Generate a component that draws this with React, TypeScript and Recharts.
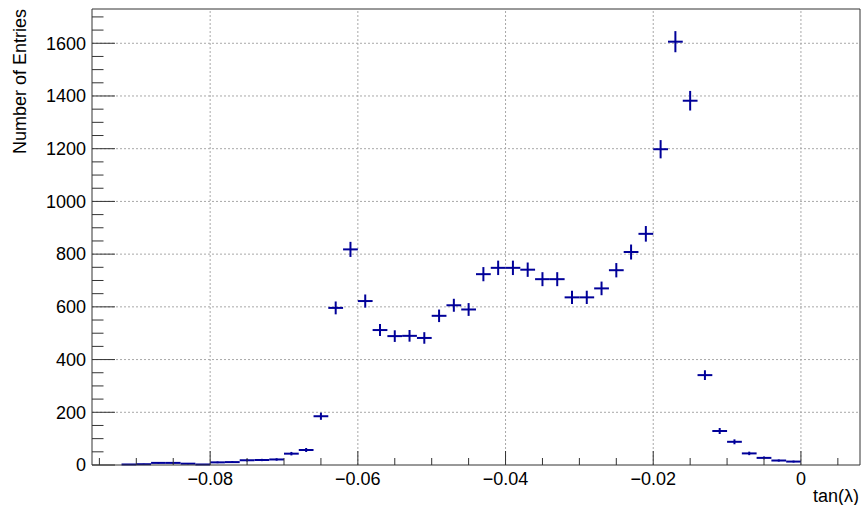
import React from 'react';
import { ScatterChart, Scatter, XAxis, YAxis, ErrorBar, ReferenceLine } from 'recharts';

// Histogram of tan(lambda): bin centres and entries per bin (bin width 0.002)
const binCenters = [
  -0.091, -0.089, -0.087, -0.085, -0.083, -0.081, -0.079, -0.077, -0.075, -0.073,
  -0.071, -0.069, -0.067, -0.065, -0.063, -0.061, -0.059, -0.057, -0.055, -0.053,
  -0.051, -0.049, -0.047, -0.045, -0.043, -0.041, -0.039, -0.037, -0.035, -0.033,
  -0.031, -0.029, -0.027, -0.025, -0.023, -0.021, -0.019, -0.017, -0.015, -0.013,
  -0.011, -0.009, -0.007, -0.005, -0.003, -0.001,
];
const entries = [
  2, 3, 8, 8, 5, 2, 10, 11, 18, 19,
  21, 43, 57, 185, 596, 818, 622, 512, 489, 490,
  482, 566, 606, 590, 724, 748, 748, 741, 705, 705,
  636, 636, 670, 739, 808, 877, 1198, 1606, 1382, 341,
  129, 88, 44, 27, 17, 13,
];
const binWidth = 0.002;

// Axis ticks and ranges
const xMajorTicks = [-0.08, -0.06, -0.04, -0.02, 0];
const xMinorTicks = [
  -0.095, -0.09, -0.085, -0.08, -0.075, -0.07, -0.065, -0.06, -0.055, -0.05, -0.045,
  -0.04, -0.035, -0.03, -0.025, -0.02, -0.015, -0.01, -0.005, 0, 0.005,
];
const yMajorTicks = [0, 200, 400, 600, 800, 1000, 1200, 1400, 1600];
const yMinorStep = 50;
const xDomain: [number, number] = [-0.096, 0.008];
const yDomain: [number, number] = [0, 1730];

const xTitle = 'tan(λ)';
const yTitle = 'Number of Entries';

const yAllTicks: number[] = [];
for (let v = yDomain[0]; v <= yDomain[1]; v += yMinorStep) yAllTicks.push(v);

const histogram = binCenters.map((x, i) => ({
  x,
  y: entries[i],
  ex: binWidth / 2,
  ey: Math.sqrt(entries[i]),
}));

const FONT = '"Liberation Sans", Arial, Helvetica, sans-serif';
const AXIS = '#333';
const MARK = '#000099';
const GRID = '#a8a8a8';

const near = (a: number, list: number[]) => list.some((b) => Math.abs(a - b) < 1e-9);
const fmtX = (v: number) => (Math.abs(v) < 1e-12 ? '0' : v < 0 ? '\u2212' + Math.abs(v).toFixed(2) : v.toFixed(2));

const XTick = (props: any) => {
  const { x, y, payload } = props;
  const major = near(payload.value, xMajorTicks);
  return (
    <g>
      <line x1={x} x2={x} y1={y} y2={y - (major ? 14 : 7)} stroke={AXIS} strokeWidth={1} />
      {major && (
        <text x={x} y={y + 20} textAnchor="middle" fontFamily={FONT} fontSize={18} fill="#000">
          {fmtX(payload.value)}
        </text>
      )}
    </g>
  );
};

const YTick = (props: any) => {
  const { x, y, payload } = props;
  const major = near(payload.value, yMajorTicks);
  return (
    <g>
      <line x1={x} x2={x + (major ? 23 : 11.5)} y1={y} y2={y} stroke={AXIS} strokeWidth={1} />
      {major && (
        <text x={x - 6} y={y} dy="0.35em" textAnchor="end" fontFamily={FONT} fontSize={18} fill="#000">
          {payload.value}
        </text>
      )}
    </g>
  );
};

const NoMarker = () => <g />;

export default function App() {
  return (
    <div style={{ position: 'absolute', left: 0, top: 0, width: 862, height: 505, background: '#fff' }}>
      <ScatterChart width={862} height={505} margin={{ top: 9, right: 2, bottom: 0, left: 0 }}>
        <XAxis
          type="number"
          dataKey="x"
          domain={xDomain}
          allowDataOverflow
          ticks={xMinorTicks}
          interval={0}
          tick={<XTick />}
          tickLine={false}
          tickSize={0}
          tickMargin={0}
          axisLine={{ stroke: AXIS }}
          height={40}
        />
        <YAxis
          type="number"
          dataKey="y"
          domain={yDomain}
          allowDataOverflow
          ticks={yAllTicks}
          interval={0}
          tick={<YTick />}
          tickLine={false}
          tickSize={0}
          tickMargin={0}
          axisLine={{ stroke: AXIS }}
          width={92}
        />
        {yMajorTicks.filter((v) => v > 0).map((v) => (
          <ReferenceLine key={'gy' + v} y={v} stroke={GRID} strokeDasharray="2 2" strokeWidth={1} />
        ))}
        {xMajorTicks.map((v) => (
          <ReferenceLine key={'gx' + v} x={v} stroke={GRID} strokeDasharray="2 2" strokeWidth={1} />
        ))}
        <ReferenceLine y={yDomain[1]} stroke={AXIS} strokeWidth={1} ifOverflow="visible" />
        <ReferenceLine x={xDomain[1]} stroke={AXIS} strokeWidth={1} ifOverflow="visible" />
        <Scatter data={histogram} shape={NoMarker} isAnimationActive={false}>
          <ErrorBar dataKey="ex" direction="x" width={0} stroke={MARK} strokeWidth={2} isAnimationActive={false} />
          <ErrorBar dataKey="ey" direction="y" width={0} stroke={MARK} strokeWidth={2} isAnimationActive={false} />
        </Scatter>
      </ScatterChart>
      <svg width={862} height={505} style={{ position: 'absolute', left: 0, top: 0, pointerEvents: 'none' }}>
        <text x={859} y={502} textAnchor="end" fontFamily={FONT} fontSize={18} fill="#000">
          {xTitle}
        </text>
        <text transform="translate(26, 9) rotate(-90)" textAnchor="end" fontFamily={FONT} fontSize={18} fill="#000">
          {yTitle}
        </text>
      </svg>
    </div>
  );
}
